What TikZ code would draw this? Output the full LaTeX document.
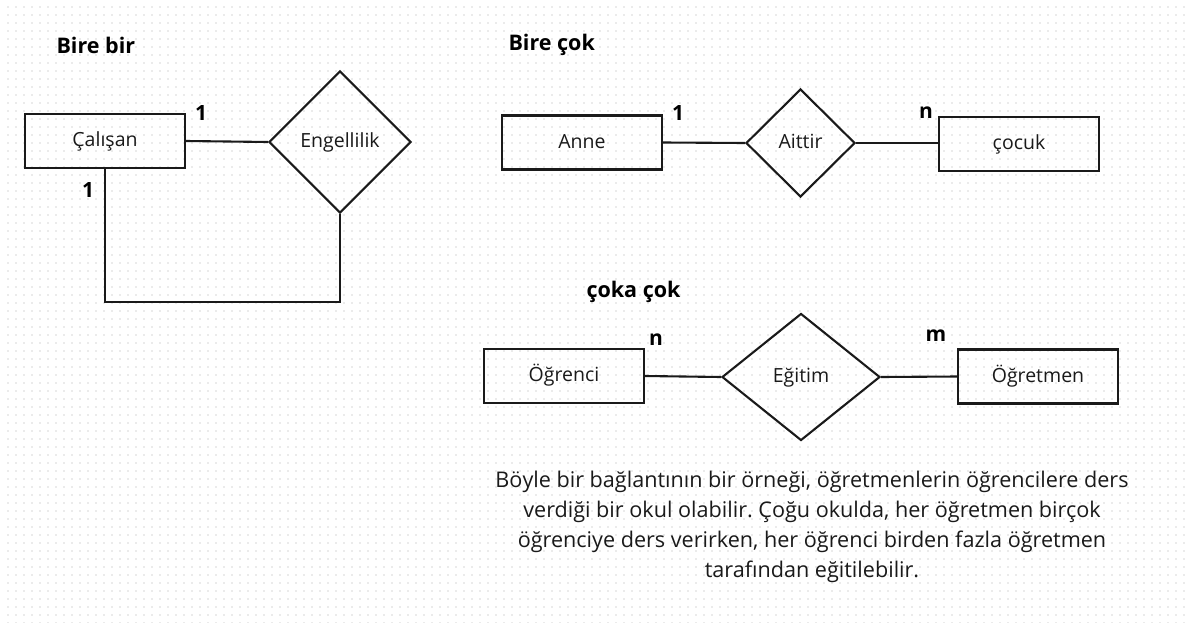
\documentclass[tikz,border=0pt]{standalone}
\usepackage{fontspec}
\setmainfont{Open Sans}
\usetikzlibrary{shapes.geometric}
\definecolor{ink}{HTML}{1A1A1A}
\definecolor{gridc}{HTML}{EBEBEB}
\tikzset{
  lbl/.style={font=\fontsize{19.5}{22}\selectfont, text=ink, text height=1.15em, text depth=0pt},
  ent/.style={lbl, draw=ink, line width=2.1pt, minimum width=160pt, minimum height=54pt, inner sep=0pt},
  rel/.style={lbl, draw=ink, diamond, line width=2.1pt, inner sep=0pt},
  card/.style={font=\bfseries\fontsize{21}{24}\selectfont, text=black},
  ttl/.style={font=\bfseries\fontsize{21.5}{24}\selectfont, text=black, anchor=west},
  conn/.style={draw=ink, line width=2.1pt},
  body/.style={font=\fontsize{21.6}{30}\selectfont, text=ink, align=center}
}
\begin{document}
\frenchspacing
\begin{tikzpicture}[x=1pt,y=-1pt]
\useasboundingbox (0,0) rectangle (1190,623);
\fill[white] (0,0) rectangle (1190,623);
\foreach \yy in {7,15,...,623}{
  \draw[gridc, line width=1.2pt, dash pattern=on 1.2pt off 6.8pt] (7.4,\yy) -- (1190,\yy);
}
% Bire bir
\node[ttl] (t1) at (53,45) {Bire bir};
\node[ent] (cal) at (105,141) {Çalışan};
\node[rel, minimum width=142pt, minimum height=142pt] (eng) at (340,142) {Engellilik};
\node[card] (c1) at (201,113) {1};
\node[card] (c2) at (88,190) {1};
\draw[conn] (cal.east) -- (eng.west);
\coordinate (k1) at (105,302);
\coordinate (k2) at (340,302);
\draw[conn] (cal.south) -- (k1) -- (k2) -- (eng.south);
% Bire cok
\node[ttl] (t2) at (505,45) {Bire çok};
\node[ent] (anne) at (582,142.5) {Anne};
\node[rel, minimum width=109pt, minimum height=108pt] (ait) at (800.5,143) {Aittir};
\node[ent] (coc) at (1019,144) {çocuk};
\node[card] (c3) at (678,113) {1};
\node[card] (c4) at (926,113) {n};
\draw[conn] (anne.east) -- (ait.west);
\draw[conn] (ait.east) -- (coc.west |- ait.east);
% coka cok
\node[ttl] (t3) at (583,292) {çoka çok};
\node[ent] (ogr) at (564,376) {Öğrenci};
\node[rel, minimum width=158pt, minimum height=127pt] (egi) at (801,377) {Eğitim};
\node[ent] (ogt) at (1038,376.5) {Öğretmen};
\node[card] (c5) at (656,340) {n};
\node[card] (c6) at (936,336) {m};
\draw[conn] (ogr.east) -- (egi.west);
\draw[conn] (egi.east) -- (ogt.west);
% paragraph
\node[body] (para) at (812,527) {Böyle bir bağlantının bir örneği, öğretmenlerin öğrencilere ders\\verdiği bir okul olabilir. Çoğu okulda, her öğretmen birçok\\öğrenciye ders verirken, her öğrenci birden fazla öğretmen\\tarafından eğitilebilir.};
\end{tikzpicture}
\end{document}
